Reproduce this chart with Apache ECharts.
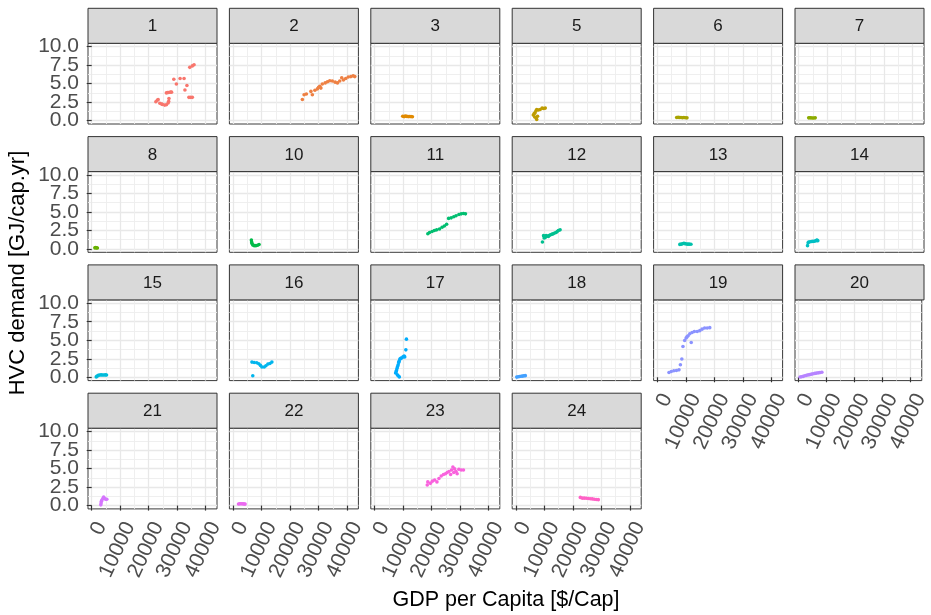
<!DOCTYPE html>
<html><head><meta charset="utf-8">
<script src="https://cdn.jsdelivr.net/npm/echarts@6/dist/echarts.min.js"></script>
<style>html,body{margin:0;padding:0;background:#fff}#c{width:931px;height:615px}</style>
</head><body><div id="c"></div>
<script>
// ---------- data ----------
const panelIds = [1,2,3,5,6,7,8,10,11,12,13,14,15,16,17,18,19,20,21,22,23,24];
const xTicks = [0,10000,20000,30000,40000];
const xMinor = [5000,15000,25000,35000];
const yTicks = [0,2.5,5,7.5,10];
const yLabelsA = [0,5,10];
const yLabelsB = [2.5,7.5];
const yMinor = [1.25,3.75,6.25,8.75];
const xTitle = 'GDP per Capita [$/Cap]';
const yTitle = 'HVC demand [GJ/cap.yr]';

// [GDP per capita, HVC demand]
const p1 = [[22500,2.55],[23000,2.75],[23300,2.85],[23900,2.35],[24500,2.25],[24800,2.2],[25600,2.1],[26200,2.15],[26800,2.4],[27000,2.6],[27100,3.0],[26200,3.75],[26600,3.8],[27000,3.8],[27600,3.85],[28000,3.85],[28800,5.6],[29700,4.95],[31000,5.7],[32400,5.7],[32700,4.15],[33400,4.75],[34100,3.15],[34700,3.15],[35300,3.15],[34400,7.2],[35300,7.4],[35900,7.55]];
const p2 = [[24300,2.85],[24900,3.5],[25700,3.6],[27300,3.95],[27800,3.5],[28700,4.1],[29600,4.3],[30000,4.5],[30400,4.65],[30800,4.4],[31300,4.95],[32300,5.1],[33100,5.25],[33900,5.4],[34800,5.35],[35800,5.2],[36600,5.1],[37400,5.35],[38100,5.8],[38700,5.5],[39500,5.7],[40400,5.9],[41300,5.95],[42100,6.05],[42700,5.95]];
const p3 = [[9900,0.6],[10400,0.55],[10800,0.62],[11300,0.58],[11800,0.55],[12300,0.57],[12800,0.55],[13300,0.52]];
const p5 = [[6100,0.75],[6400,0.95],[6600,0.5],[6700,1.05],[7000,1.3],[7100,0.35],[7300,1.5],[7300,0.15],[7600,0.6],[7900,1.45],[8500,1.5],[9200,1.7],[9700,1.65],[10300,1.7]];
const p6 = [[6800,0.42],[7300,0.45],[7800,0.43],[8300,0.42],[8800,0.4],[9300,0.42],[9800,0.4],[10400,0.38]];
const p7 = [[3500,0.38],[3900,0.4],[4300,0.38],[4800,0.37],[5300,0.36],[5800,0.38]];
const p8 = [[1100,0.15],[1400,0.18],[1700,0.15],[2000,0.14]];
const p10 = [[6400,1.2],[6500,0.95],[6600,0.75],[6900,0.55],[7400,0.45],[8000,0.45],[8600,0.5],[9100,0.6]];
const p11 = [[18700,2.05],[19300,2.23],[20200,2.36],[21000,2.5],[21800,2.58],[22800,2.7],[23700,2.94],[24500,3.1],[25300,3.33],[26000,4.13],[26900,4.2],[27800,4.35],[28600,4.48],[29600,4.66],[30400,4.74],[31200,4.8],[31900,4.74]];
const p12 = [[9300,0.95],[9700,1.8],[9900,1.48],[10300,1.55],[10600,1.8],[11000,1.75],[11400,1.7],[11800,1.85],[12200,1.92],[12700,2.0],[13100,2.05],[13600,2.15],[14100,2.23],[14500,2.35],[14900,2.5],[15500,2.58]];
const p13 = [[7900,0.62],[8400,0.65],[8900,0.7],[9300,0.78],[9700,0.72],[10200,0.68],[10700,0.65],[11200,0.65],[11800,0.63]];
const p14 = [[3100,0.45],[3300,0.85],[3500,0.95],[4000,0.98],[4500,1.0],[5000,1.02],[5500,1.05],[6000,1.1],[6200,1.15],[6400,1.2],[6500,1.15],[6700,1.12]];
const p15 = [[1600,0.05],[1900,0.15],[2300,0.25],[2800,0.3],[3300,0.32],[3800,0.3],[4300,0.3],[4800,0.32],[5200,0.3]];
const p16 = [[6600,2.05],[7400,2.0],[8300,1.96],[9000,1.82],[9600,1.6],[10100,1.38],[10900,1.38],[11500,1.55],[12200,1.78],[12900,1.86],[13600,2.05],[6900,0.2]];
const p17 = [[7400,0.57],[7600,0.75],[7700,0.9],[7900,1.2],[8100,1.45],[8300,1.7],[8500,2.0],[8600,2.15],[8900,2.45],[9200,2.55],[9500,2.6],[10000,2.75],[10400,2.85],[10600,2.75],[11000,3.7],[11200,5.15],[8000,0.35],[8300,0.2],[8700,0.05]];
const p18 = [[300,0.02],[800,0.06],[1300,0.1],[1800,0.13],[2300,0.16],[2800,0.19],[3300,0.22]];
const p19 = [[4100,0.65],[4900,0.78],[5800,0.88],[6700,0.92],[7600,1.0],[8100,1.69],[8600,2.46],[9000,4.16],[9600,4.97],[10100,5.3],[10400,5.45],[10800,5.6],[11400,5.88],[11900,4.7],[12200,6.05],[13000,6.19],[14000,6.19],[14900,6.3],[15700,6.5],[16600,6.65],[17500,6.65],[18400,6.7]];
const p20 = [[500,0.03],[1000,0.08],[1600,0.12],[2200,0.2],[2800,0.26],[3400,0.32],[4000,0.36],[4600,0.42],[5200,0.48],[5800,0.52],[6400,0.56],[7000,0.6],[7600,0.63],[8300,0.68]];
const p21 = [[3200,0.1],[3300,0.35],[3400,0.6],[3600,0.75],[3900,0.95],[4200,1.15],[4500,0.95],[4900,0.85],[5300,0.85]];
const p22 = [[1900,0.22],[2300,0.25],[2700,0.24],[3100,0.25],[3500,0.23],[3900,0.22],[4200,0.2]];
const p23 = [[18500,2.78],[18700,3.2],[19600,3.0],[20300,3.3],[21100,3.45],[21900,3.2],[22600,3.65],[23400,4.0],[24200,4.2],[24900,4.3],[25500,4.46],[26100,4.6],[26700,4.2],[27000,4.8],[27500,5.2],[27800,4.46],[28100,4.95],[28600,4.6],[29000,4.3],[29600,4.9],[30400,4.8],[31200,4.8]];
const p24 = [[22600,1.1],[23300,1.0],[24000,1.0],[24700,0.98],[25400,0.95],[26100,0.92],[26800,0.9],[27500,0.85],[28200,0.82],[28900,0.8]];

const panelData = {1:p1,2:p2,3:p3,5:p5,6:p6,7:p7,8:p8,10:p10,11:p11,12:p12,13:p13,14:p14,15:p15,16:p16,17:p17,18:p18,19:p19,20:p20,21:p21,22:p22,23:p23,24:p24};

// ---------- styling / layout ----------
const FONT = '"Liberation Sans", Arial, Helvetica, sans-serif';
const XMIN = -1300, XMAX = 43950, YMIN = -0.45, YMAX = 10.45;
const L0 = 88, DX = 141.4, PW = 129, T0 = 43.3, DY = 128.3, PH = 80.7, SH = 35;
const NLEVELS = 26;

function hcl(h, c, l) {
  const hr = h * Math.PI / 180;
  const U = c * Math.cos(hr), V = c * Math.sin(hr);
  const WX = 95.047, WY = 100.0, WZ = 108.883;
  const Y = WY * (l > 7.999592 ? Math.pow((l + 16) / 116, 3) : l / 903.3);
  const t = WX + WY + WZ, x = WX / t, y = WY / t;
  const uN = 2 * x / (6 * y - x + 1.5), vN = 4.5 * y / (6 * y - x + 1.5);
  const u = U / (13 * l) + uN, v = V / (13 * l) + vN;
  const X = 9.0 * Y * u / (4 * v);
  const Z = -X / 3 - 5 * Y + 3 * Y / v;
  const lin = [
    (3.240479 * X - 1.537150 * Y - 0.498535 * Z) / WY,
    (-0.969256 * X + 1.875992 * Y + 0.041556 * Z) / WY,
    (0.055648 * X - 0.204043 * Y + 1.057311 * Z) / WY
  ];
  return '#' + lin.map(q => {
    let g = q > 0.0031308 ? 1.055 * Math.pow(q, 1 / 2.4) - 0.055 : 12.92 * q;
    g = Math.max(0, Math.min(1, g));
    return Math.round(g * 255).toString(16).padStart(2, '0');
  }).join('');
}
function panelColor(id) { return hcl(15 + (id - 1) * 360 / NLEVELS, 100, 65); }

const yLabelStyle = {margin: 9, interval: 0, showMinLabel: true, showMaxLabel: true, hideOverlap: false,
  formatter: v => Number(v).toFixed(1), fontSize: 21, color: '#4D4D4D', fontFamily: FONT};

const grids = [], xAxes = [], yAxes = [], series = [], graphics = [];
panelIds.forEach((id, k) => {
  const col = k % 6, row = Math.floor(k / 6);
  const left = L0 + col * DX, top = T0 + row * DY;
  const isBottom = k + 6 >= panelIds.length;
  const isFirst = col === 0;
  grids.push({left: left, top: top, width: PW, height: PH, show: true,
    backgroundColor: '#fff', borderColor: '#3a3a3a', borderWidth: 1});
  // major x
  xAxes.push({gridIndex: k, type: 'value', min: XMIN, max: XMAX, position: 'bottom',
    axisLine: {show: false},
    axisTick: {show: isBottom, customValues: xTicks, length: 5, lineStyle: {color: '#333', width: 1.2}},
    axisLabel: {show: isBottom, customValues: xTicks, rotate: 65, margin: 10, interval: 0,
      showMinLabel: true, showMaxLabel: true, hideOverlap: false,
      align: 'right', verticalAlign: 'top',
      formatter: v => String(v), fontSize: 21, color: '#4D4D4D', fontFamily: FONT},
    splitLine: {show: true, lineStyle: {color: '#E8E8E8', width: 1.3}}});
  // minor x
  xAxes.push({gridIndex: k, type: 'value', min: XMIN, max: XMAX, position: 'top',
    axisLine: {show: false}, axisTick: {show: false, customValues: xMinor},
    axisLabel: {show: false},
    splitLine: {show: true, lineStyle: {color: '#EDEDED', width: 0.9}}});
  // major y (labels 0, 5, 10)
  yAxes.push({gridIndex: k, type: 'value', min: YMIN, max: YMAX, position: 'left',
    axisLine: {show: false},
    axisTick: {show: isFirst, customValues: yTicks, length: 5, lineStyle: {color: '#333', width: 1.2}},
    axisLabel: Object.assign({show: isFirst, customValues: yLabelsA}, yLabelStyle),
    splitLine: {show: true, lineStyle: {color: '#E8E8E8', width: 1.3}}});
  // minor y (labels 2.5, 7.5; minor grid lines)
  yAxes.push({gridIndex: k, type: 'value', min: YMIN, max: YMAX, position: 'left', offset: 0,
    axisLine: {show: false}, axisTick: {show: false, customValues: yMinor},
    axisLabel: Object.assign({show: isFirst, customValues: yLabelsB}, yLabelStyle),
    splitLine: {show: true, lineStyle: {color: '#EDEDED', width: 0.9}}});
  series.push({type: 'scatter', xAxisIndex: 2 * k, yAxisIndex: 2 * k,
    data: panelData[id], symbolSize: 3.6, silent: true,
    itemStyle: {color: panelColor(id), opacity: 1}});
  // strip
  graphics.push({type: 'rect', shape: {x: left, y: top - SH, width: PW, height: SH},
    style: {fill: '#D9D9D9', stroke: '#333', lineWidth: 1}, z: 10});
  graphics.push({type: 'text', x: left + PW / 2, y: top - SH / 2 + 1, z: 11,
    style: {text: String(id), align: 'center', verticalAlign: 'middle',
      textAlign: 'center', textVerticalAlign: 'middle',
      fontSize: 17, fill: '#1A1A1A', fontFamily: FONT}});
});
graphics.push({type: 'text', x: 18, y: 273, rotation: Math.PI / 2, z: 11,
  style: {text: yTitle, align: 'center', verticalAlign: 'middle',
    textAlign: 'center', textVerticalAlign: 'middle',
    fontSize: 22, fill: '#000', fontFamily: FONT}});
graphics.push({type: 'text', x: 506, y: 600, z: 11,
  style: {text: xTitle, align: 'center', verticalAlign: 'middle',
    textAlign: 'center', textVerticalAlign: 'middle',
    fontSize: 21.5, fill: '#000', fontFamily: FONT}});

const chart = echarts.init(document.getElementById('c'), null, {renderer: 'canvas'});
chart.setOption({
  animation: false,
  backgroundColor: '#fff',
  grid: grids, xAxis: xAxes, yAxis: yAxes, series: series,
  graphic: {elements: graphics}
});
</script></body></html>
